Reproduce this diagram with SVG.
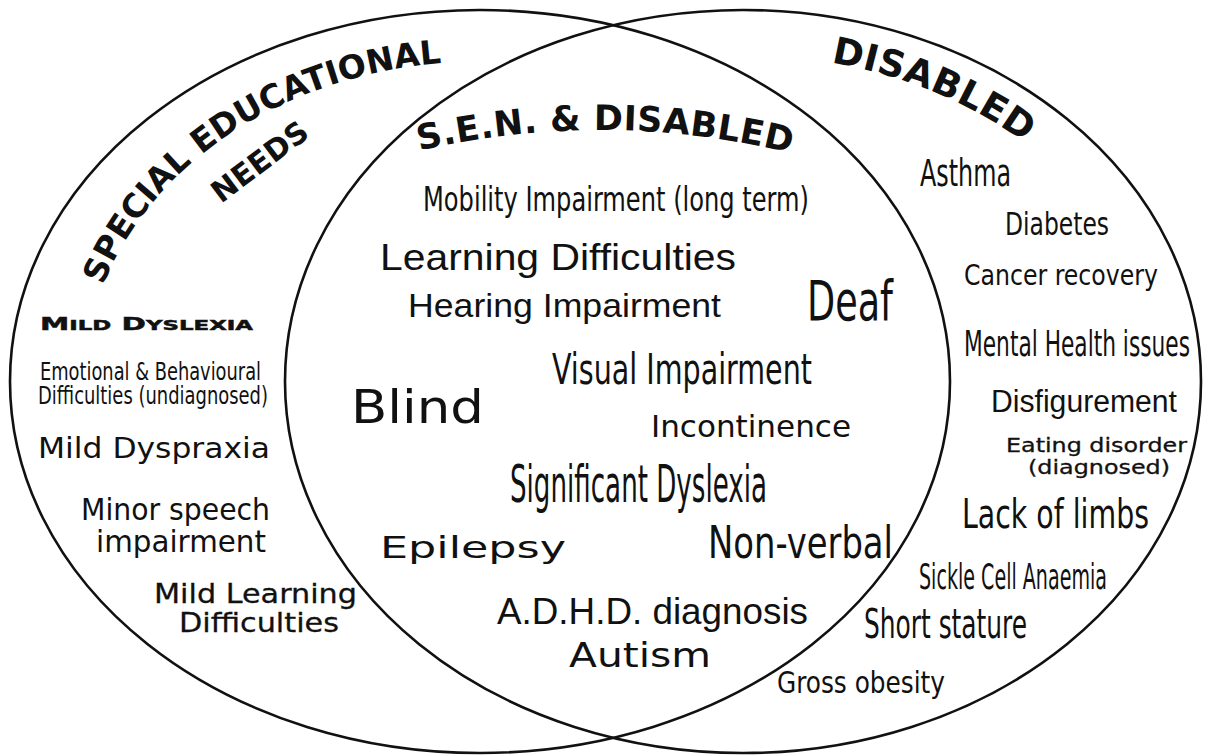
<svg xmlns="http://www.w3.org/2000/svg" width="1207" height="756" viewBox="0 0 1207 756">
<style>
.set{fill:none;stroke:#111;stroke-width:2.6}
text{fill:#111}
.title{font-family:"DejaVu Sans","Liberation Sans",sans-serif;font-weight:bold}
.cond{font-family:"Liberation Sans Narrow","DejaVu Sans Condensed","Liberation Sans",sans-serif}
.reg{font-family:"Liberation Sans",Arial,sans-serif}
.wide{font-family:"DejaVu Sans","Liberation Sans",sans-serif}
.semi{stroke:#111;stroke-width:0.3}
.cop{font-family:"DejaVu Sans","Liberation Sans",sans-serif;font-weight:bold;stroke:#111;stroke-width:0.5}
</style>
<defs>
<path id="arcSEN" d="M 103.3,285.3 A 395 320 0 0 1 548.6,66.4" fill="none"/>
<path id="arcMid" d="M 400,155.4 A 800 800 0 0 1 810,158.1" fill="none"/>
<path id="arcDis" d="M 831,62.5 A 413 326.5 0 0 1 1131.1,269.8" fill="none"/>
</defs>
<rect width="1207" height="756" fill="#fff"/>

<g id="set-sen">
<ellipse class="set" cx="480" cy="381.5" rx="470" ry="371.5"/>
<text class="title" font-size="33"><textPath href="#arcSEN">SPECIAL EDUCATIONAL</textPath></text>
<text class="title" font-size="30" text-anchor="middle" transform="translate(266,170) rotate(-37)">NEEDS</text>
</g>

<g id="set-disabled">
<ellipse class="set" cx="743" cy="381.5" rx="458" ry="371.5"/>
<text class="title" font-size="37" letter-spacing="0.5"><textPath href="#arcDis">DISABLED</textPath></text>
</g>

<g id="set-overlap">
<text class="title" font-size="35" letter-spacing="0.3" text-anchor="middle"><textPath href="#arcMid" startOffset="50%">S.E.N. &amp; DISABLED</textPath></text>
</g>

<g id="sen-items">
<g id="mild-dyslexia"><text class="cop" x="40" y="330" textLength="213" lengthAdjust="spacingAndGlyphs"><tspan font-size="18">M</tspan><tspan font-size="14">ILD</tspan><tspan font-size="18"> D</tspan><tspan font-size="14">YSLEXIA</tspan></text></g>
<g id="emotional"><text class="cond" x="40" y="380" font-size="24" textLength="221" lengthAdjust="spacingAndGlyphs">Emotional &amp; Behavioural</text>
<text class="cond" x="38" y="404" font-size="24" textLength="230" lengthAdjust="spacingAndGlyphs">Difficulties (undiagnosed)</text></g>
<g id="mild-dyspraxia"><text class="wide" x="38" y="458" font-size="29" textLength="232" lengthAdjust="spacingAndGlyphs">Mild Dyspraxia</text></g>
<g id="minor-speech"><text class="wide" x="81" y="520" font-size="31" textLength="189" lengthAdjust="spacingAndGlyphs">Minor speech</text>
<text class="wide" x="96" y="552" font-size="31" textLength="170" lengthAdjust="spacingAndGlyphs">impairment</text></g>
<g id="mild-learning"><text class="wide semi" x="154" y="603" font-size="27" textLength="203" lengthAdjust="spacingAndGlyphs">Mild Learning</text>
<text class="wide semi" x="179" y="632" font-size="27" textLength="160" lengthAdjust="spacingAndGlyphs">Difficulties</text></g>
</g>

<g id="overlap-items">
<g id="mobility"><text class="cond" x="423" y="211" font-size="34" textLength="386" lengthAdjust="spacingAndGlyphs">Mobility Impairment (long term)</text></g>
<g id="learning"><text class="reg" x="380" y="270" font-size="37" textLength="356" lengthAdjust="spacingAndGlyphs">Learning Difficulties</text></g>
<g id="hearing"><text class="reg" x="408" y="317" font-size="33" textLength="313" lengthAdjust="spacingAndGlyphs">Hearing Impairment</text></g>
<g id="deaf"><text class="cond" x="807" y="320" font-size="55" textLength="86" lengthAdjust="spacingAndGlyphs">Deaf</text></g>
<g id="visual"><text class="cond" x="552" y="384" font-size="43" textLength="260" lengthAdjust="spacingAndGlyphs">Visual Impairment</text></g>
<g id="blind"><text class="wide" x="351" y="423" font-size="47" textLength="133" lengthAdjust="spacingAndGlyphs">Blind</text></g>
<g id="incontinence"><text class="wide" x="651" y="437" font-size="31" textLength="200" lengthAdjust="spacingAndGlyphs">Incontinence</text></g>
<g id="significant"><text class="cond" x="510" y="502" font-size="52" textLength="257" lengthAdjust="spacingAndGlyphs">Significant Dyslexia</text></g>
<g id="epilepsy"><text class="wide" x="380" y="558" font-size="31" textLength="186" lengthAdjust="spacingAndGlyphs">Epilepsy</text></g>
<g id="nonverbal"><text class="cond" x="708" y="558" font-size="44" textLength="185" lengthAdjust="spacingAndGlyphs">Non-verbal</text></g>
<g id="adhd"><text class="reg" x="497" y="624" font-size="36" textLength="311" lengthAdjust="spacingAndGlyphs">A.D.H.D. diagnosis</text></g>
<g id="autism"><text class="wide" x="569" y="667" font-size="34" textLength="142" lengthAdjust="spacingAndGlyphs">Autism</text></g>
</g>

<g id="disabled-items">
<g id="asthma"><text class="cond" x="920" y="186" font-size="37" textLength="91" lengthAdjust="spacingAndGlyphs">Asthma</text></g>
<g id="diabetes"><text class="cond" x="1005" y="235" font-size="32" textLength="104" lengthAdjust="spacingAndGlyphs">Diabetes</text></g>
<g id="cancer"><text class="cond" x="964" y="285" font-size="29" textLength="194" lengthAdjust="spacingAndGlyphs">Cancer recovery</text></g>
<g id="mental"><text class="cond" x="964" y="356" font-size="36" textLength="226" lengthAdjust="spacingAndGlyphs">Mental Health issues</text></g>
<g id="disfigurement"><text class="reg" x="991" y="412" font-size="31" textLength="186" lengthAdjust="spacingAndGlyphs">Disfigurement</text></g>
<g id="eating"><text class="wide semi" x="1006" y="452" font-size="19" textLength="181" lengthAdjust="spacingAndGlyphs">Eating disorder</text>
<text class="wide semi" x="1028" y="474" font-size="19" textLength="142" lengthAdjust="spacingAndGlyphs">(diagnosed)</text></g>
<g id="limbs"><text class="cond" x="962" y="528" font-size="40" textLength="187" lengthAdjust="spacingAndGlyphs">Lack of limbs</text></g>
<g id="sickle"><text class="cond" x="919" y="589" font-size="36" textLength="188" lengthAdjust="spacingAndGlyphs">Sickle Cell Anaemia</text></g>
<g id="short"><text class="cond" x="864" y="638" font-size="40" textLength="163" lengthAdjust="spacingAndGlyphs">Short stature</text></g>
<g id="gross"><text class="cond" x="777" y="693" font-size="31" textLength="168" lengthAdjust="spacingAndGlyphs">Gross obesity</text></g>
</g>
</svg>
